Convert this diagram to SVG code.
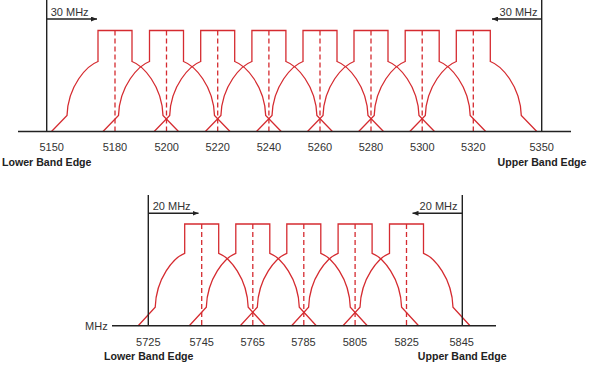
<svg xmlns="http://www.w3.org/2000/svg" xmlns:xlink="http://www.w3.org/1999/xlink" width="589" height="367" viewBox="0 0 589 367">
<style>
.ax{stroke:#222;stroke-width:1.4;fill:none}
.ch{stroke:#d52b30;stroke-width:1.3;fill:none;stroke-linejoin:miter}
.cd{stroke:#d52b30;stroke-width:1.3;fill:none;stroke-dasharray:5,3}
.num{font-family:"Liberation Sans",Arial,sans-serif;font-size:11px;fill:#333;text-anchor:middle}
.mhz{font-family:"Liberation Sans",Arial,sans-serif;font-size:11px;fill:#333}
.edge{font-family:"Liberation Sans",Arial,sans-serif;font-size:10.6px;font-weight:bold;fill:#222}
</style>
<defs>
<marker id="ah" viewBox="0 0 6 5" refX="6" refY="2.5" markerWidth="6" markerHeight="5" markerUnits="userSpaceOnUse" orient="auto">
<path d="M0,0 L6,2.5 L0,5 Z" fill="#222"/>
</marker>
<g id="chA">
<path class="ch" d="M-63.5,0 L-48,-16 C-47,-46 -28,-66 -17,-70 L-17,-101 L17,-101 L17,-70 C28,-66 47,-46 48,-16 L63.5,0"/>
<path class="cd" d="M0,-101 V0"/>
</g>
<g id="chB">
<path class="ch" d="M-63.5,0 L-46.5,-18.5 C-45.5,-48 -28,-68 -17,-72.4 L-17,-101.7 L17,-101.7 L17,-72.4 C28,-68 45.5,-48 46.5,-18.5 L63.5,0"/>
<path class="cd" d="M0,-101.7 V0"/>
</g>
</defs>

<g id="top-channels">
<g id="ch5180"><use xlink:href="#chA" href="#chA" transform="translate(115,131.5)"/></g>
<g id="ch5200"><use xlink:href="#chA" href="#chA" transform="translate(166.5,131.5)"/></g>
<g id="ch5220"><use xlink:href="#chA" href="#chA" transform="translate(217.7,131.5)"/></g>
<g id="ch5240"><use xlink:href="#chA" href="#chA" transform="translate(268.9,131.5)"/></g>
<g id="ch5260"><use xlink:href="#chA" href="#chA" transform="translate(320,131.5)"/></g>
<g id="ch5280"><use xlink:href="#chA" href="#chA" transform="translate(371,131.5)"/></g>
<g id="ch5300"><use xlink:href="#chA" href="#chA" transform="translate(422.2,131.5)"/></g>
<g id="ch5320"><use xlink:href="#chA" href="#chA" transform="translate(473.3,131.5)"/></g>
</g>

<g id="bottom-channels">
<g id="ch5745"><use xlink:href="#chB" href="#chB" transform="translate(201.7,325.7)"/></g>
<g id="ch5765"><use xlink:href="#chB" href="#chB" transform="translate(252.8,325.7)"/></g>
<g id="ch5785"><use xlink:href="#chB" href="#chB" transform="translate(303.8,325.7)"/></g>
<g id="ch5805"><use xlink:href="#chB" href="#chB" transform="translate(355.1,325.7)"/></g>
<g id="ch5825"><use xlink:href="#chB" href="#chB" transform="translate(406.5,325.7)"/></g>
</g>

<g id="connectors">
<line class="ax" x1="18" y1="131.5" x2="571" y2="131.5"/>
<line class="ax" x1="46.7" y1="0" x2="46.7" y2="131.5"/>
<line class="ax" x1="541.7" y1="0" x2="541.7" y2="131.5"/>
<line class="ax" x1="46.7" y1="19" x2="97" y2="19" marker-end="url(#ah)"/>
<line class="ax" x1="541.7" y1="19" x2="492" y2="19" marker-end="url(#ah)"/>
<line class="ax" x1="112" y1="325.7" x2="496" y2="325.7"/>
<line class="ax" x1="148.3" y1="195" x2="148.3" y2="325.7"/>
<line class="ax" x1="462.3" y1="195" x2="462.3" y2="325.7"/>
<line class="ax" x1="148.3" y1="213.3" x2="198.5" y2="213.3" marker-end="url(#ah)"/>
<line class="ax" x1="462.3" y1="213.3" x2="412.5" y2="213.3" marker-end="url(#ah)"/>
</g>

<g id="labels">
<text class="mhz" x="50.7" y="16">30 MHz</text>
<text class="mhz" x="537.5" y="16" text-anchor="end">30 MHz</text>
<text class="num" x="51.7" y="150.5">5150</text>
<text class="num" x="115" y="150.5">5180</text>
<text class="num" x="166.7" y="150.5">5200</text>
<text class="num" x="217.7" y="150.5">5220</text>
<text class="num" x="269" y="150.5">5240</text>
<text class="num" x="320" y="150.5">5260</text>
<text class="num" x="371" y="150.5">5280</text>
<text class="num" x="422.3" y="150.5">5300</text>
<text class="num" x="473.3" y="150.5">5320</text>
<text class="num" x="541.7" y="150.5">5350</text>
<text class="edge" x="2" y="166.3">Lower Band Edge</text>
<text class="edge" x="586.5" y="166.3" text-anchor="end">Upper Band Edge</text>

<text class="mhz" x="152.7" y="210">20 MHz</text>
<text class="mhz" x="457.5" y="210" text-anchor="end">20 MHz</text>
<text class="mhz" x="107.7" y="329.5" text-anchor="end">MHz</text>
<text class="num" x="148.3" y="345.5">5725</text>
<text class="num" x="201.7" y="345.5">5745</text>
<text class="num" x="252.7" y="345.5">5765</text>
<text class="num" x="303.5" y="345.5">5785</text>
<text class="num" x="355" y="345.5">5805</text>
<text class="num" x="406.7" y="345.5">5825</text>
<text class="num" x="461.7" y="345.5">5845</text>
<text class="edge" x="104" y="360.3">Lower Band Edge</text>
<text class="edge" x="506.7" y="360.3" text-anchor="end">Upper Band Edge</text>
</g>
</svg>
